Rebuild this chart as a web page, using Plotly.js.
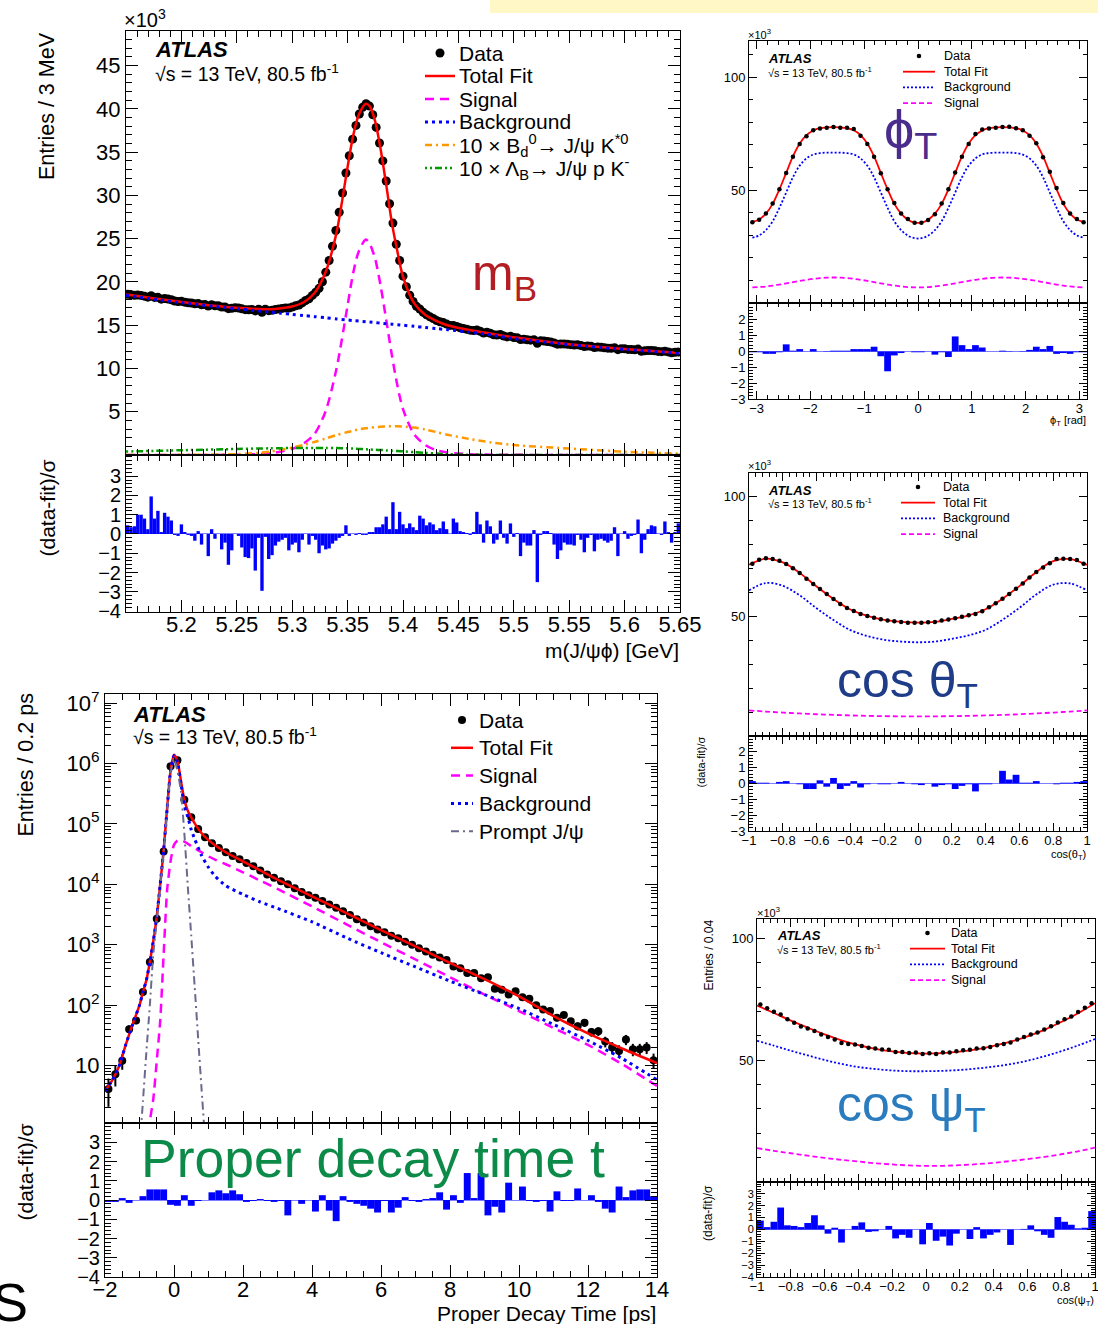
<!DOCTYPE html>
<html><head><meta charset="utf-8">
<script src="https://cdn.plot.ly/plotly-3.0.1.min.js"></script>
<style>html,body{margin:0;padding:0;background:#fff}#plot{width:1098px;height:1324px}</style>
</head><body><div id="plot"></div>
<script>
// ---------------- DATA ----------------
// Panel A: m(J/psi phi) [GeV], entries x10^3 per bin
const mRange = [5.15, 5.65];
const mData = [18.57,18.51,18.46,18.49,18.44,18.36,18.24,18.41,18.21,18.22,
18.01,18.09,18.02,17.94,17.79,17.74,17.76,17.66,17.60,17.56,
17.48,17.50,17.37,17.40,17.21,17.35,17.25,17.24,17.10,17.10,
16.91,16.96,17.03,16.99,16.89,16.80,16.78,16.82,16.65,16.85,
16.49,16.84,16.68,16.72,16.81,16.88,16.94,17.00,16.98,17.09,
17.24,17.33,17.58,17.85,18.05,18.44,18.81,19.26,20.02,21.13,
22.48,24.12,25.94,28.06,30.28,32.59,34.58,36.50,38.09,39.41,
40.19,40.59,40.32,39.32,37.86,36.06,33.99,31.66,29.04,26.80,
24.35,22.48,20.67,19.44,18.47,17.75,17.18,16.87,16.50,16.21,
15.98,15.77,15.53,15.39,15.30,15.13,14.98,14.98,14.86,14.71,
14.61,14.53,14.43,14.38,14.45,14.30,14.10,14.18,14.07,13.89,
13.86,13.93,13.75,13.65,13.73,13.58,13.56,13.35,13.39,13.32,
13.27,13.33,12.92,13.19,13.17,13.12,13.07,12.95,12.81,12.83,
12.84,12.79,12.75,12.70,12.73,12.66,12.54,12.59,12.57,12.42,
12.47,12.45,12.39,12.35,12.33,12.40,12.17,12.29,12.28,12.20,
12.19,12.16,12.24,11.98,12.04,12.08,12.08,12.05,11.97,11.94,
12.00,11.91,11.81,11.86,11.89];
const mResid = [0.45,0.35,0.4,1.0,1.0,0.8,0.25,1.95,0.8,1.2,
0.1,1.1,0.9,0.7,-0.05,-0.1,0.5,0.1,-0.05,-0.1,
-0.35,0.15,-0.55,0,-1.15,0.25,-0.25,0,-0.8,-0.45,
-1.6,-0.85,0,-0.1,-0.7,-1.2,-1.25,-0.75,-1.9,-0.2,
-2.95,-0.15,-1.3,-1.1,-0.6,-0.4,-0.3,-0.2,-0.85,-0.55,
-0.45,-0.95,-0.3,0,-0.55,-0.1,-0.3,-1.0,-0.6,-0.8,
-0.75,-0.5,-0.35,-0.2,-0.1,0.45,-0.1,0,-0.05,0.05,
-0.05,-0.05,0.1,0.1,0.35,0.35,0.5,0.9,0.25,1.65,
0.25,1.15,0.5,0.3,0.55,0.35,0.2,0.95,0.8,0.45,
0.6,0.5,0.2,0.3,0.65,0.25,0,0.8,0.6,0.15,
0.1,0.05,-0.05,0.1,1.15,0.5,-0.45,0.7,0.4,-0.5,
-0.3,0.7,-0.2,-0.5,0.55,-0.15,0.05,-1.15,-0.45,-0.6,
-0.6,0.2,-2.5,-0.05,0.15,0.15,0.05,-0.55,-1.3,-0.85,
-0.45,-0.55,-0.55,-0.6,-0.05,-0.3,-0.95,-0.2,-0.05,-0.9,
-0.3,-0.25,-0.35,-0.45,-0.35,0.35,-1.15,0,0.15,-0.25,
-0.1,-0.05,0.75,-1.0,-0.3,0.25,0.45,0.4,0,-0.05,
0.65,0.1,-0.45,0.1,0.55];
const mFitX   = [5.15,5.20,5.25,5.27,5.28,5.29,5.30,5.31,5.32,5.33,5.34,5.35,5.355,5.36,5.3665,5.37,5.375,5.38,5.385,5.39,5.395,5.40,5.41,5.42,5.43,5.44,5.46,5.48,5.50,5.55,5.60,5.65];
const mTotal  = [18.54,17.69,17.01,16.87,16.85,16.96,17.16,17.62,18.70,21.1,25.7,33.3,36.9,39.3,40.6,40.3,38.5,35.2,31.1,26.8,23.5,20.6,17.55,16.2,15.5,15.0,14.45,14.02,13.60,12.80,12.26,11.80];
const mSignal = [0,0,0.03,0.1,0.2,0.4,0.7,1.3,2.4,5.0,10.0,17.3,21.0,23.5,24.9,24.4,22.6,19.4,15.5,11.5,8.0,5.3,2.4,1.15,0.55,0.28,0.1,0.04,0.02,0,0,0];
const mBkg    = [18.45,17.6,16.9,16.64,16.51,16.38,16.25,16.12,15.99,15.86,15.73,15.6,15.54,15.48,15.4,15.36,15.3,15.24,15.18,15.12,15.06,15.0,14.87,14.74,14.61,14.48,14.2,13.87,13.45,12.75,12.2,11.75];
const mBd     = [0,0.02,0.1,0.25,0.4,0.6,0.85,1.15,1.5,1.9,2.3,2.65,2.8,2.95,3.1,3.15,3.22,3.27,3.3,3.32,3.32,3.3,3.18,2.95,2.65,2.35,1.85,1.45,1.15,0.75,0.38,0.15];
const mLb     = [0.4,0.55,0.7,0.75,0.77,0.79,0.8,0.81,0.82,0.82,0.8,0.77,0.74,0.7,0.66,0.63,0.6,0.58,0.53,0.48,0.45,0.42,0.33,0.25,0.17,0.1,0.03,0.01,0,0,0,0];
const mTicks = [5.2,5.25,5.3,5.35,5.4,5.45,5.5,5.55,5.6,5.65];
const mYTicks = [5,10,15,20,25,30,35,40,45];

// Panel B: phi_T
const phiRange = [-Math.PI, Math.PI];
const phiData = [35.8,36.9,39.6,44.0,50.4,57.6,64.8,70.4,73.8,76.5,77.3,77.6,77.9,77.6,77.6,77.0,74.0,70.4,64.8,57.5,
50.4,44.3,39.6,37.2,35.5,35.5,36.7,39.3,44.0,50.4,57.8,64.8,70.4,74.8,76.8,77.3,77.6,77.9,78.0,77.4,
76.5,74.0,70.7,64.5,58.1,50.9,44.3,39.6,37.2,35.8];
const phiFit = [35.9,37.0,39.6,43.9,50.3,57.6,64.9,70.6,74.3,76.4,77.4,77.8,77.9,77.8,77.4,76.5,74.3,70.6,64.9,57.6,50.3,43.9,39.6,36.9,35.6,
35.6,36.9,39.6,43.9,50.3,57.6,64.9,70.6,74.3,76.4,77.4,77.8,77.9,77.8,77.4,76.4,74.3,70.6,64.9,57.6,50.3,43.9,39.6,37.0,35.9];
const phiSig = [6.92,7.06,7.32,7.70,8.16,8.69,9.24,9.78,10.28,10.70,11.03,11.23,11.30,11.23,11.03,10.70,10.28,9.78,9.24,8.69,8.16,7.70,7.32,7.06,6.92,
6.92,7.06,7.32,7.70,8.16,8.69,9.24,9.78,10.28,10.70,11.03,11.23,11.30,11.23,11.03,10.70,10.28,9.78,9.24,8.69,8.16,7.70,7.32,7.06,6.92];
const phiBkg = [28.98,29.94,32.28,36.2,42.14,48.91,55.66,60.82,64.02,65.7,66.37,66.57,66.6,66.57,66.37,65.8,64.02,60.82,55.66,48.91,42.14,36.2,32.28,29.84,28.68,
28.68,29.84,32.28,36.2,42.14,48.91,55.66,60.82,64.02,65.8,66.37,66.57,66.6,66.57,66.37,65.7,64.02,60.82,55.66,48.91,42.14,36.2,32.28,29.94,28.98];
const phiResid = [-0.05,-0.05,-0.15,-0.15,-0.05,0.45,0.05,0.15,0,0.15,0,0.02,0.05,0.05,0.05,0.15,0.15,0.15,0.3,-0.3,
-1.25,-0.25,-0.1,0,-0.05,-0.05,0,-0.2,-0.05,-0.35,0.95,0.4,0.15,0.4,0.25,0,0,0.05,0.02,0,
0.02,0.1,0.3,0.15,0.35,-0.15,-0.1,-0.15,-0.05,-0.05];
const phiTicks = [-3,-2,-1,0,1,2,3];

// Panel C: cos(theta_T)
const cRange = [-1, 1];
const cTicks = [-1,-0.8,-0.6,-0.4,-0.2,0,0.2,0.4,0.6,0.8,1];
const cCurveX = [-1,-0.9,-0.8,-0.7,-0.6,-0.5,-0.4,-0.3,-0.2,-0.1,0,0.1,0.2,0.3,0.4,0.5,0.6,0.7,0.8,0.9,1];
const cthData = [72.0,73.7,74.3,74.0,73.3,71.9,70.2,68.2,65.8,63.6,61.5,59.4,57.3,55.2,53.5,52.3,51.0,50.2,49.5,48.8,
48.3,48.0,47.7,47.4,47.4,47.4,47.6,47.7,48.3,48.7,49.2,49.9,50.5,51.0,52.2,53.8,55.5,57.4,59.4,61.6,
63.8,66.3,68.6,70.5,72.3,74.0,74.1,74.0,73.6,72.0];
const cthFit = [71.6,74.2,72.6,68.2,62.5,57.3,52.9,50.2,48.55,47.7,47.4,47.7,48.95,50.5,53.0,57.4,62.7,68.6,73.1,74.0,71.6];
const cthSig = [10.7,10.23,9.8,9.43,9.1,8.83,8.6,8.43,8.3,8.23,8.2,8.23,8.3,8.43,8.6,8.83,9.1,9.43,9.8,10.23,10.7];
const cthBkg = [60.9,64.0,62.8,58.8,53.4,48.5,44.3,41.8,40.25,39.5,39.2,39.5,40.65,42.1,44.4,48.6,53.6,59.2,63.3,63.8,60.9];
const cthResid = [0.15,0.05,0.05,0,0.1,0.15,0,-0.05,-0.35,-0.35,0.2,-0.2,0.35,-0.35,-0.15,0.15,-0.25,-0.05,0,-0.05,
-0.05,0,0.1,0,-0.05,-0.1,0,-0.2,-0.1,-0.05,-0.35,-0.15,-0.05,-0.5,-0.05,-0.05,0,0.8,0.25,0.55,
0.05,0.05,0.15,0,0,-0.05,0.05,0.05,0.1,0.15];

// Panel D: cos(psi_T)
const cpsData = [72.9,71.3,69.9,68.8,66.8,65.4,63.9,63.0,62.0,60.6,59.5,58.5,57.1,56.7,56.5,55.8,55.1,54.8,54.4,54.3,
53.4,53.4,53.0,53.2,52.6,52.9,52.6,53.2,53.2,53.7,54.1,54.3,54.8,54.9,55.4,56.2,56.7,57.3,58.5,59.5,
60.6,61.4,62.6,64.0,65.5,66.8,68.0,69.8,71.6,73.4];
const cpsFit = [72.5,69.4,66.3,63.4,60.6,58.2,56.2,54.7,53.6,52.9,52.7,52.9,53.5,54.5,55.9,57.6,59.8,62.5,65.7,69.3,73.4];
const cpsSig = [13.9,12.8,11.8,10.8,9.9,9.1,8.4,7.7,7.2,6.8,6.6,6.65,6.9,7.3,7.9,8.6,9.4,10.3,11.4,12.6,14.1];
const cpsBkg = [58.0,56.0,53.9,52.0,50.1,48.5,47.2,46.4,45.8,45.5,45.5,45.65,46.0,46.6,47.4,48.4,49.8,51.6,53.7,56.1,58.7];
const cpsResid = [0.75,0.2,0.65,1.85,0.35,0.3,0.2,0.55,1.2,0.35,-0.35,0.15,-1.1,0,0.3,0.6,-0.2,-0.15,0,0.3,
-0.75,-0.45,-0.7,0,-1.25,0.55,-0.95,-0.6,-1.35,-0.35,0,-0.8,0.2,-0.75,-0.45,-0.25,0,-1.3,0,0.05,
0.35,-0.15,-0.45,-0.7,1.05,0.65,0.4,0.1,0.15,1.55];

// Panel E: proper decay time [ps]
const tRange = [-2, 14];
const tData = [4.1,7.2,12,40,56,165,520,2700,35000,9.0e5,
1.13e6,2.5e5,1.29e5,8.2e4,6.0e4,4.8e4,4.0e4,3.4e4,2.95e4,2.6e4,
2.25e4,1.99e4,1.7e4,1.45e4,1.28e4,1.12e4,1.0e4,8600,7500,6600,
6000,5300,4650,4100,3600,3100,2650,2330,2030,1790,
1610,1410,1280,1120,1000,875,770,680,615,560,
435,410,340,340,280,290,187,180,150,170,
135,128,100,85,80,62,69,54,45,51,
36,37,25,20,17.5,27,18.6,18.6,20,12.3];
const tResid = [-0.1,-0.1,0.1,-0.15,0,0.2,0.55,0.55,0.55,-0.25,-0.3,0.25,-0.3,-0.05,0,0.4,0.5,0.35,0.5,0.3,
-0.1,-0.05,0.05,-0.05,-0.1,-0.05,-0.8,0,-0.2,0,-0.6,0.25,-0.55,-1.1,0.2,-0.1,-0.2,-0.3,-0.45,-0.65,
-0.05,-0.65,-0.4,0.15,-0.05,-0.1,0.05,0.1,0.4,-0.5,0.25,-0.15,1.4,0.1,1.4,-0.8,-0.35,-0.65,0.9,0,
0.7,-0.05,-0.1,-0.05,-0.6,0.45,-0.05,-0.05,0.6,0,0.25,-0.1,-0.45,-0.65,0.7,0.15,0.5,0.55,0.55,0.2];
const tCurveX = [-2.0,-1.8,-1.6,-1.4,-1.2,-1.0,-0.9,-0.8,-0.7,-0.6,-0.5,-0.4,-0.3,-0.2,-0.1,0.0,0.1,0.2,0.3,0.4,0.5,0.6,0.8,1.0,1.2,1.5,2.0,2.5,3.0,4.0,5.0,6.0,7.0,8.0,9.0,10.0,11.0,12.0,13.0,14.0];
const tTotal  = [3.8,5.6,9.5,22,48,100,165,260,520,1150,2900,10000,37000,1.8e5,7.6e5,1.4e6,1.1e6,5.2e5,2.5e5,1.65e5,1.28e5,1.02e5,7.0e4,5.4e4,4.4e4,3.4e4,2.4e4,1.7e4,1.2e4,6300,3350,1750,940,500,270,140,66,34,19,11];
const tBkg    = [3.8,5.6,9.5,22,48,100,165,260,520,1150,2900,9900,36500,1.75e5,7.4e5,1.36e6,1.05e6,4.7e5,2.0e5,1.3e5,8.0e4,5.6e4,3.0e4,1.9e4,1.35e4,9.5e3,6.8e3,5.1e3,4.0e3,2.4e3,1.3e3,740,430,250,150,88,48,26,13,5.8];
const tSignal = [0.01,0.01,0.01,0.01,0.01,0.01,0.05,0.3,1.2,2.8,12,55,700,8000,24000,45000,53000,54000,51000,47000,43000,39500,34000,29000,25500,21500,15800,11500,8400,4300,2180,1100,570,290,150,80,42,22,10.5,4.6];
const tPromptX = [-1.0,-0.9,-0.8,-0.7,-0.6,-0.5,-0.4,-0.3,-0.2,-0.1,0.0,0.1,0.2,0.3,0.4,0.5,0.6,0.7,0.8,0.9];
const tPrompt  = [0.4,2.6,17,100,700,2500,9000,33000,1.6e5,6.8e5,1.2e6,7.5e5,3.5e5,7.0e4,9300,1400,200,28,4,0.6];
const tTicks = [-2,0,2,4,6,8,10,12,14];
const tYTicks = [10,100,1000,1e4,1e5,1e6,1e7];
const tYText = ['10','10<sup>2</sup>','10<sup>3</sup>','10<sup>4</sup>','10<sup>5</sup>','10<sup>6</sup>','10<sup>7</sup>'];
const resTicks4 = [-4,-3,-2,-1,0,1,2,3];
const resTicks3 = [-3,-2,-1,0,1,2];

// Legend labels
const legA = ['Data','Total Fit','Signal','Background','10 × B<sub>d</sub><sup>0</sup>→ J/ψ K<sup>*0</sup>','10 × Λ<sub>B</sub>→ J/ψ p K<sup>-</sup>'];
const legAng = ['Data','Total Fit','Background','Signal'];
const legE = ['Data','Total Fit','Signal','Background','Prompt J/ψ'];

// ---------------- HELPERS ----------------
const F = '"Liberation Sans", Arial, Helvetica, sans-serif';
const W = 1098, H = 1324;
const PX = v => v / W, PY = v => 1 - v / H;
const xdom = (a, b) => [PX(a), PX(b)];
const ydom = (top, bottom) => [PY(bottom), PY(top)];
function centers(r, n) { const w = (r[1] - r[0]) / n; return Array.from({length: n}, (_, i) => r[0] + (i + 0.5) * w); }
function axis(o, big) {
  const minor = Object.assign({ticks: 'inside', ticklen: big ? 6 : 4, tickcolor: '#000', tickwidth: 1, showgrid: false}, o.minor || {});
  const base = {showline: true, linecolor: '#000', linewidth: 1, mirror: 'ticks', ticks: 'inside', tickcolor: '#000',
    tickwidth: 1, ticklen: big ? 12 : 8, showgrid: false, zeroline: false, fixedrange: true, ticklabeloverflow: 'allow',
    tickfont: {family: F, size: big ? 22 : 13, color: '#000'}};
  return Object.assign(base, o, {minor});
}
function ann(text, x, y, size, extra) {
  return Object.assign({xref: 'paper', yref: 'paper', x: PX(x), y: PY(y), text, showarrow: false,
    font: {family: F, size, color: '#000'}, xanchor: 'left', yanchor: 'middle'}, extra || {});
}
const RED = '#ff0000', MAG = '#ff00ff', BLU = '#0000ff';
// line styles
const stA = {
  tot: {color: RED, width: 2.5},
  sig: {color: MAG, width: 2.5, dash: '9px,6px'},
  bkg: {color: BLU, width: 3, dash: '3px,4px'},
  bd:  {color: '#ff9900', width: 2.5, dash: '7px,4px,2px,4px'},
  lb:  {color: '#009900', width: 2.5, dash: '2px,3px,2px,3px,7px,3px'},
  pr:  {color: '#6a6a8c', width: 2, dash: '8px,4px,2px,4px'}
};
const stS = {
  tot: {color: RED, width: 1.8},
  bkg: {color: BLU, width: 1.8, dash: '2px,2px'},
  sig: {color: MAG, width: 1.8, dash: '5px,3px'}
};

// ---------------- TRACES ----------------
const traces = [];
// A
const mC = centers(mRange, mData.length);
const spl = (st, s) => Object.assign({shape: 'spline', smoothing: s}, st);
traces.push({type: 'scatter', mode: 'markers', x: mC, y: mData, xaxis: 'x', yaxis: 'y', marker: {color: '#000', size: 9}});
traces.push({type: 'scatter', mode: 'lines', x: mFitX, y: mTotal, xaxis: 'x', yaxis: 'y', line: spl(stA.tot, 0.8)});
traces.push({type: 'scatter', mode: 'lines', x: mFitX, y: mSignal, xaxis: 'x', yaxis: 'y', line: spl(stA.sig, 0.8)});
traces.push({type: 'scatter', mode: 'lines', x: mFitX, y: mBkg, xaxis: 'x', yaxis: 'y', line: spl(stA.bkg, 0.8)});
traces.push({type: 'scatter', mode: 'lines', x: mFitX, y: mBd, xaxis: 'x', yaxis: 'y', line: spl(stA.bd, 0.8)});
traces.push({type: 'scatter', mode: 'lines', x: mFitX, y: mLb, xaxis: 'x', yaxis: 'y', line: spl(stA.lb, 0.8)});
traces.push({type: 'bar', x: mC, y: mResid, width: (mRange[1] - mRange[0]) / mResid.length, xaxis: 'x2', yaxis: 'y2', marker: {color: BLU, line: {width: 0}}});

// B, C, D angular panels
function angular(xc, data, curveX, fit, bkg, sig, resid, range, xa, ya, xr, yr) {
  traces.push({type: 'scatter', mode: 'lines', x: curveX, y: fit, xaxis: xa, yaxis: ya, line: spl(stS.tot, 1)});
  traces.push({type: 'scatter', mode: 'lines', x: curveX, y: bkg, xaxis: xa, yaxis: ya, line: spl(stS.bkg, 1)});
  traces.push({type: 'scatter', mode: 'lines', x: curveX, y: sig, xaxis: xa, yaxis: ya, line: spl(stS.sig, 1)});
  traces.push({type: 'scatter', mode: 'markers', x: xc, y: data, xaxis: xa, yaxis: ya, marker: {color: '#000', size: 4.5}});
  traces.push({type: 'bar', x: xc, y: resid, width: (range[1] - range[0]) / resid.length, xaxis: xr, yaxis: yr, marker: {color: BLU, line: {width: 0}}});
}
const phiC = centers(phiRange, phiData.length);
angular(phiC, phiData, phiC, phiFit, phiBkg, phiSig, phiResid, phiRange, 'x3', 'y3', 'x4', 'y4');
const cthC = centers(cRange, cthData.length);
angular(cthC, cthData, cCurveX, cthFit, cthBkg, cthSig, cthResid, cRange, 'x5', 'y5', 'x6', 'y6');
const cpsC = centers(cRange, cpsData.length);
angular(cpsC, cpsData, cCurveX, cpsFit, cpsBkg, cpsSig, cpsResid, cRange, 'x7', 'y7', 'x8', 'y8');

// E
const tC = centers(tRange, tData.length);
traces.push({type: 'scatter', mode: 'markers', x: tC, y: tData, xaxis: 'x9', yaxis: 'y9', marker: {color: '#000', size: 8}, error_y: {type: 'sqrt', color: '#000', thickness: 2, width: 0}});
traces.push({type: 'scatter', mode: 'lines', x: tCurveX, y: tTotal, xaxis: 'x9', yaxis: 'y9', line: spl(stA.tot, 0.6)});
traces.push({type: 'scatter', mode: 'lines', x: tCurveX, y: tSignal, xaxis: 'x9', yaxis: 'y9', line: spl(stA.sig, 0.6)});
traces.push({type: 'scatter', mode: 'lines', x: tCurveX, y: tBkg, xaxis: 'x9', yaxis: 'y9', line: spl(stA.bkg, 0.6)});
traces.push({type: 'scatter', mode: 'lines', x: tPromptX, y: tPrompt, xaxis: 'x9', yaxis: 'y9', line: spl(stA.pr, 0.6)});
traces.push({type: 'bar', x: tC, y: tResid, width: (tRange[1] - tRange[0]) / tResid.length, xaxis: 'x10', yaxis: 'y10', marker: {color: BLU, line: {width: 0}}});

// ---------------- LEGENDS (drawn as shapes + text) ----------------
const shapes = [
  {type: 'rect', xref: 'paper', yref: 'paper', x0: PX(490), x1: 1, y0: PY(13), y1: 1, fillcolor: '#fff8c6', line: {width: 0}, layer: 'below'}
];
const annotations = [];
function legendBlock(labels, styles, sx0, sx1, tx, y0, dy, size, r) {
  labels.forEach((lab, i) => {
    const y = y0 + i * dy, st = styles[i];
    if (st === 'marker') {
      const cx = (sx0 + sx1) / 2;
      shapes.push({type: 'circle', xref: 'paper', yref: 'paper', x0: PX(cx - r), x1: PX(cx + r), y0: PY(y + r), y1: PY(y - r), fillcolor: '#000', line: {width: 0}});
    } else {
      shapes.push({type: 'line', xref: 'paper', yref: 'paper', x0: PX(sx0), x1: PX(sx1), y0: PY(y), y1: PY(y), line: st});
    }
    annotations.push(ann(lab, tx, y, size));
  });
}
legendBlock(legA, ['marker', stA.tot, stA.sig, stA.bkg, stA.bd, stA.lb], 425, 455, 457, 53, 23, 21, 4.5);
legendBlock(legAng, ['marker', stS.tot, stS.bkg, stS.sig], 903, 935, 942, 56, 15.7, 12.5, 2.3);
legendBlock(legAng, ['marker', stS.tot, stS.bkg, stS.sig], 901, 935, 941, 487, 15.7, 12.5, 2.3);
legendBlock(legAng, ['marker', stS.tot, stS.bkg, stS.sig], 910, 945, 949, 933, 15.7, 12.5, 2.3);
legendBlock(legE, ['marker', stA.tot, stA.sig, stA.bkg, stA.pr], 451, 473, 477, 720, 27.8, 21, 4);

// ---------------- LAYOUT ----------------
const zl = {zeroline: true, zerolinecolor: '#7f7fff', zerolinewidth: 1};
const resFontBig = {family: F, size: 20, color: '#000'};
const resFontSmall = {family: F, size: 11, color: '#000'};
const layout = {
  width: W, height: H, margin: {l: 0, r: 0, t: 0, b: 0}, paper_bgcolor: '#fff', plot_bgcolor: 'rgba(0,0,0,0)',
  showlegend: false, font: {family: F, color: '#000'},
  // A
  xaxis: axis({domain: xdom(126, 680), range: mRange, anchor: 'y', tickmode: 'array', tickvals: mTicks, showticklabels: false, minor: {dtick: 0.01, tick0: 5.15}}, true),
  yaxis: axis({domain: ydom(31, 455), range: [0, 49], anchor: 'x', tickmode: 'array', tickvals: mYTicks, minor: {dtick: 1, tick0: 0}}, true),
  xaxis2: axis({domain: xdom(126, 680), range: mRange, anchor: 'y2', tickmode: 'array', tickvals: mTicks, ticklabelstandoff: -7, minor: {dtick: 0.01, tick0: 5.15}}, true),
  yaxis2: axis(Object.assign({domain: ydom(455, 612), range: [-4.05, 4.1], anchor: 'x2', tickmode: 'array', tickvals: resTicks4, tickfont: resFontBig, minor: {dtick: 0.2, tick0: 0}}, zl), true),
  // B
  xaxis3: axis({domain: xdom(749, 1087), range: phiRange, anchor: 'y3', tickmode: 'array', tickvals: phiTicks, showticklabels: false, minor: {dtick: 0.2, tick0: 0}}),
  yaxis3: axis({domain: ydom(41, 303), range: [0, 116], anchor: 'x3', tickmode: 'array', tickvals: [50, 100], minor: {dtick: 10, tick0: 0}}),
  xaxis4: axis({domain: xdom(749, 1087), range: phiRange, anchor: 'y4', tickmode: 'array', tickvals: phiTicks, ticklabelstandoff: -3, minor: {dtick: 0.2, tick0: 0}}),
  yaxis4: axis(Object.assign({domain: ydom(303, 399), range: [-3, 3.06], anchor: 'x4', tickmode: 'array', tickvals: resTicks3, minor: {dtick: 0.2, tick0: 0}}, zl)),
  // C
  xaxis5: axis({domain: xdom(749, 1087), range: cRange, anchor: 'y5', tickmode: 'array', tickvals: cTicks, showticklabels: false, minor: {dtick: 0.04, tick0: 0}}),
  yaxis5: axis({domain: ydom(473, 736), range: [0, 110], anchor: 'x5', tickmode: 'array', tickvals: [50, 100], minor: {dtick: 10, tick0: 0}}),
  xaxis6: axis({domain: xdom(749, 1087), range: cRange, anchor: 'y6', tickmode: 'array', tickvals: cTicks, ticklabelstandoff: -3, minor: {dtick: 0.04, tick0: 0}}),
  yaxis6: axis(Object.assign({domain: ydom(736, 831), range: [-3, 3], anchor: 'x6', tickmode: 'array', tickvals: resTicks3, minor: {dtick: 0.2, tick0: 0}}, zl)),
  // D
  xaxis7: axis({domain: xdom(757, 1095), range: cRange, anchor: 'y7', tickmode: 'array', tickvals: cTicks, showticklabels: false, minor: {dtick: 0.04, tick0: 0}}),
  yaxis7: axis({domain: ydom(919, 1182), range: [0, 108], anchor: 'x7', tickmode: 'array', tickvals: [50, 100], minor: {dtick: 10, tick0: 0}}),
  xaxis8: axis({domain: xdom(757, 1095), range: cRange, anchor: 'y8', tickmode: 'array', tickvals: cTicks, ticklabelstandoff: -3, minor: {dtick: 0.04, tick0: 0}}),
  yaxis8: axis(Object.assign({domain: ydom(1182, 1277), range: [-4, 4], anchor: 'x8', tickmode: 'array', tickvals: resTicks4, tickfont: resFontSmall, minor: {dtick: 0.2, tick0: 0}}, zl)),
  // E
  xaxis9: axis({domain: xdom(105, 657), range: tRange, anchor: 'y9', tickmode: 'array', tickvals: tTicks, showticklabels: false, minor: {dtick: 0.5, tick0: 0}}, true),
  yaxis9: axis({domain: ydom(694, 1123), type: 'log', range: [0.05, 7.15], anchor: 'x9', tickmode: 'array', tickvals: tYTicks, ticktext: tYText, minor: {dtick: 'D1'}}, true),
  xaxis10: axis({domain: xdom(105, 657), range: tRange, anchor: 'y10', tickmode: 'array', tickvals: tTicks, ticklabelstandoff: -7, minor: {dtick: 0.5, tick0: 0}}, true),
  yaxis10: axis(Object.assign({domain: ydom(1123, 1277), range: [-4, 4], anchor: 'x10', tickmode: 'array', tickvals: resTicks4, tickfont: resFontBig, minor: {dtick: 0.2, tick0: 0}}, zl), true),
  shapes: shapes,
  annotations: annotations.concat([
    // A
    ann('×10<sup>3</sup>', 122, 18, 20),
    ann('<b><i>ATLAS</i></b>', 153, 50, 22),
    ann('√s = 13 TeV, 80.5 fb<sup>-1</sup>', 153, 73, 19.5),
    ann('m<sub>B</sub>', 505, 277, 50, {font: {family: F, size: 50, color: '#b31e24'}, xanchor: 'center'}),
    ann('Entries / 3 MeV', 47, 30, 21.5, {textangle: -90, xanchor: 'center', yanchor: 'top'}),
    ann('(data-fit)/σ', 47, 458, 21, {textangle: -90, xanchor: 'center', yanchor: 'top'}),
    ann('m(J/ψϕ) [GeV]', 681, 650, 21, {xanchor: 'right'}),
    // B
    ann('×10<sup>3</sup>', 746, 34, 11),
    ann('<b><i>ATLAS</i></b>', 766, 58, 13),
    ann('√s = 13 TeV, 80.5 fb<sup>-1</sup>', 766, 72, 11),
    ann('ϕ<sub>T</sub>', 910, 133, 54, {font: {family: F, size: 54, color: '#4a2c8c'}, xanchor: 'center'}),
    ann('ϕ<sub>T</sub> [rad]', 1088, 421, 11, {xanchor: 'right'}),
    // C
    ann('×10<sup>3</sup>', 746, 465, 11),
    ann('<b><i>ATLAS</i></b>', 766, 490, 13),
    ann('√s = 13 TeV, 80.5 fb<sup>-1</sup>', 766, 503, 11),
    ann('cos θ<sub>T</sub>', 907, 683, 50, {font: {family: F, size: 50, color: '#1f3c88'}, xanchor: 'center'}),
    ann('(data-fit)/σ', 700, 735, 11, {textangle: -90, xanchor: 'center', yanchor: 'top'}),
    ann('cos(θ<sub>T</sub>)', 1088, 855, 11, {xanchor: 'right'}),
    // D
    ann('×10<sup>3</sup>', 755, 912, 11),
    ann('<b><i>ATLAS</i></b>', 775, 935, 13),
    ann('√s = 13 TeV, 80.5 fb<sup>-1</sup>', 775, 949, 11),
    ann('cos ψ<sub>T</sub>', 911, 1107, 50, {font: {family: F, size: 50, color: '#2b7bbf'}, xanchor: 'center'}),
    ann('Entries / 0.04', 708, 918, 12, {textangle: -90, xanchor: 'center', yanchor: 'top'}),
    ann('(data-fit)/σ', 708, 1183, 12, {textangle: -90, xanchor: 'center', yanchor: 'top'}),
    ann('cos(ψ<sub>T</sub>)', 1096, 1301, 11, {xanchor: 'right'}),
    // E
    ann('<b><i>ATLAS</i></b>', 131, 714, 22),
    ann('√s = 13 TeV, 80.5 fb<sup>-1</sup>', 131, 736, 19.5),
    ann('Entries / 0.2 ps', 25, 692, 21.5, {textangle: -90, xanchor: 'center', yanchor: 'top'}),
    ann('(data-fit)/σ', 25, 1122, 21, {textangle: -90, xanchor: 'center', yanchor: 'top'}),
    ann('Proper Decay Time [ps]', 658, 1313, 21, {xanchor: 'right'}),
    ann('Proper decay time t', 373, 1158, 53.5, {font: {family: F, size: 53.5, color: '#0b8a48'}, xanchor: 'center'}),
    ann('S', -10, 1302, 54)
  ])
};

Plotly.newPlot('plot', traces, layout, {staticPlot: true, displayModeBar: false});
</script></body></html>
